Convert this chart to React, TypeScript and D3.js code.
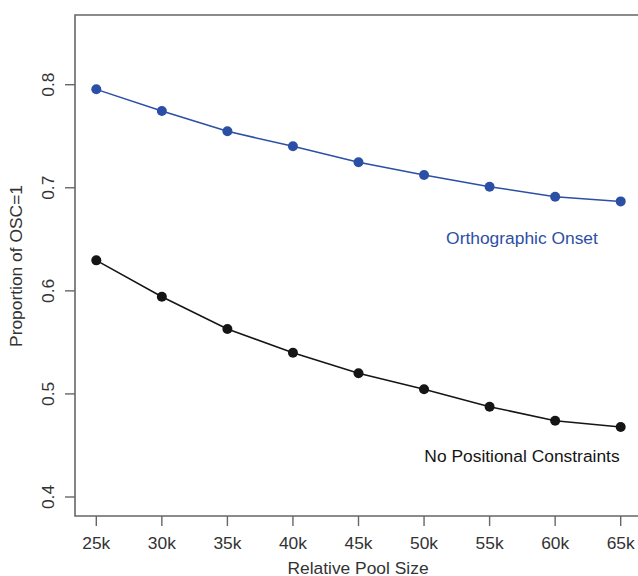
import React from "react";
import * as d3 from "d3";

const poolSizes = [25, 30, 35, 40, 45, 50, 55, 60, 65];
const xTickLabels = ["25k", "30k", "35k", "40k", "45k", "50k", "55k", "60k", "65k"];
const orthographicOnset = [0.7955, 0.7745, 0.7548, 0.7402, 0.7247, 0.7124, 0.701, 0.6913, 0.6868];
const noPositional = [0.6296, 0.5943, 0.563, 0.54, 0.52, 0.5045, 0.4876, 0.474, 0.4679];
const yTicks = [0.4, 0.5, 0.6, 0.7, 0.8];

const W = 638;
const H = 576;
const frame = { left: 75, top: 15, right: 640, bottom: 516 };

export default function App() {
  const x = d3.scaleLinear().domain([25, 65]).range([96.3, 620.7]);
  const y = d3.scaleLinear().domain([0.4, 0.8]).range([497, 84.7]);
  const line = d3
    .line<number>()
    .x((_, i) => x(poolSizes[i]))
    .y((d) => y(d));
  const font = "'Liberation Sans', Arial, sans-serif";
  const textColor = "#333";
  const axisColor = "#666";
  const blue = "#2c4fa6";
  const black = "#151515";
  const fs = 17.4;

  return (
    <svg
      width={W}
      height={H}
      style={{ position: "absolute", left: 0, top: 0, background: "#fff" }}
      fontFamily={font}
    >
      <path
        d={`M${frame.right},${frame.top}H${frame.left}V${frame.bottom}H${frame.right}`}
        fill="none"
        stroke={axisColor}
        strokeWidth={1.6}
      />
      {yTicks.map((t) => (
        <g key={t}>
          <line x1={frame.left - 10} x2={frame.left} y1={y(t)} y2={y(t)} stroke={axisColor} strokeWidth={1.4} />
          <text
            transform={`translate(${frame.left - 21},${y(t)}) rotate(-90)`}
            textAnchor="middle"
            fontSize={fs}
            fill={textColor}
          >
            {t.toFixed(1)}
          </text>
        </g>
      ))}
      {poolSizes.map((p, i) => (
        <g key={p}>
          <line x1={x(p)} x2={x(p)} y1={frame.bottom} y2={frame.bottom + 10} stroke={axisColor} strokeWidth={1.4} />
          <text x={x(p)} y={548.5} textAnchor="middle" fontSize={fs} fill={textColor}>
            {xTickLabels[i]}
          </text>
        </g>
      ))}
      <text x={358} y={573.5} textAnchor="middle" fontSize={fs} fill={textColor}>
        Relative Pool Size
      </text>
      <text
        transform={`translate(22,266) rotate(-90)`}
        textAnchor="middle"
        fontSize={fs}
        fill={textColor}
      >
        Proportion of OSC=1
      </text>

      <path d={line(orthographicOnset) || ""} fill="none" stroke={blue} strokeWidth={1.5} />
      {orthographicOnset.map((v, i) => (
        <circle key={"b" + i} cx={x(poolSizes[i])} cy={y(v)} r={5} fill={blue} />
      ))}
      <path d={line(noPositional) || ""} fill="none" stroke={black} strokeWidth={1.5} />
      {noPositional.map((v, i) => (
        <circle key={"k" + i} cx={x(poolSizes[i])} cy={y(v)} r={5} fill={black} />
      ))}

      <text x={522} y={244} textAnchor="middle" fontSize={fs} fill={blue}>
        Orthographic Onset
      </text>
      <text x={522} y={462} textAnchor="middle" fontSize={fs} fill={black}>
        No Positional Constraints
      </text>
    </svg>
  );
}
